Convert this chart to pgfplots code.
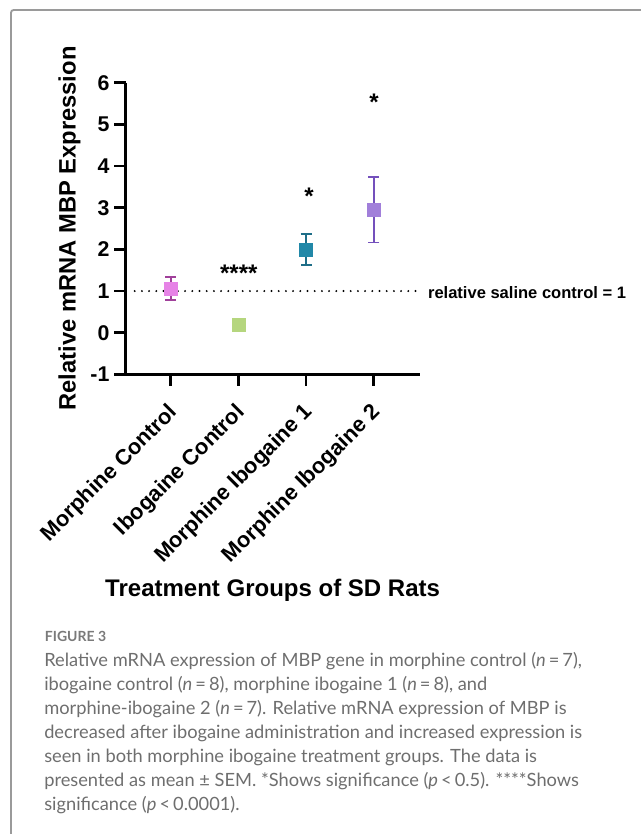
\documentclass[border=0pt]{standalone}
\usepackage{pgfplots}
\pgfplotsset{compat=1.18}
\usepackage{fontspec}
\setmainfont{Liberation Sans}
\newfontfamily\capfont{Lato}
\definecolor{mcfill}{HTML}{E683E6}
\definecolor{mcbar}{HTML}{A0409A}
\definecolor{icfill}{HTML}{B5D67E}
\definecolor{mifill}{HTML}{2188A8}
\definecolor{mibar}{HTML}{1E6E88}
\definecolor{m2fill}{HTML}{A17FDA}
\definecolor{m2bar}{HTML}{7450BC}
\definecolor{framegray}{HTML}{9A9A9A}
\definecolor{capgray}{HTML}{6E6E6E}
\definecolor{figgray}{HTML}{7A7A7A}
\begin{document}
\begin{tikzpicture}[x=0.75pt,y=-0.75pt]
\path[use as bounding box] (0,0) rectangle (640,834);
\draw[framegray, line width=1.4pt, rounded corners=2pt] (11,850) -- (11,10) -- (660,10);
\begin{axis}[
  at={(94.275pt,-280.8pt)}, anchor=south west,
  scale only axis, width=220.4pt, height=218.8pt,
  xmin=-0.666, xmax=3.676, ymin=-1, ymax=6,
  axis lines=left, axis line style={line width=2pt, -},
  tick style={line width=2pt, black},
  tick align=outside, major tick length=8.5pt,
  xtick={0,1,2,3},
  xticklabels={Morphine Control, Ibogaine Control, Morphine Ibogaine 1, Morphine Ibogaine 2},
  ytick={-1,0,1,2,3,4,5,6},
  yticklabels={-1,0,1,2,3,4,5,6},
  y tick label style={font=\bfseries\fontsize{16}{18}\selectfont, inner sep=0pt, xshift=-3.5pt},
  x tick label style={font=\bfseries\fontsize{16.4}{18}\selectfont, xshift=-3pt, yshift=-12pt, rotate=45, anchor=north east, inner sep=0pt},
  clip=false,
]
\addplot[black, line width=1.6pt, dash pattern=on 0pt off 5.4pt, line cap=round] coordinates {(-0.533,1) (3.62,1)};
\addplot[only marks, mark=square*, mark size=4.8pt, mark options={fill=mcfill, draw=mcfill},
  error bars/.cd, y dir=both, y explicit,
  error bar style={mcbar, line width=1.1pt},
  error mark options={rotate=90, mcbar, mark size=4.1pt, line width=1.1pt}]
  coordinates {(0,1.06) +- (0,0.28)};
\addplot[only marks, mark=square*, mark size=4.8pt, mark options={fill=icfill, draw=icfill}]
  coordinates {(1,0.2)};
\addplot[only marks, mark=square*, mark size=4.8pt, mark options={fill=mifill, draw=mifill},
  error bars/.cd, y dir=both, y explicit,
  error bar style={mibar, line width=1.1pt},
  error mark options={rotate=90, mibar, mark size=4.1pt, line width=1.1pt}]
  coordinates {(2,1.995) +- (0,0.375)};
\addplot[only marks, mark=square*, mark size=4.8pt, mark options={fill=m2fill, draw=m2fill},
  error bars/.cd, y dir=both, y explicit,
  error bar style={m2bar, line width=1.1pt},
  error mark options={rotate=90, m2bar, mark size=4.1pt, line width=1.1pt}]
  coordinates {(3,2.95) +- (0,0.79)};
\end{axis}
% annotations
\node[anchor=base, font=\bfseries\fontsize{18}{20}\selectfont, inner sep=0pt] at (238.8,281.4) {****};
\node[anchor=base, font=\bfseries\fontsize{18}{20}\selectfont, inner sep=0pt] at (309,204.4) {*};
\node[anchor=base, font=\bfseries\fontsize{18}{20}\selectfont, inner sep=0pt] at (374,110.4) {*};
\node[anchor=west, font=\bfseries\fontsize{12.4}{14}\selectfont, inner sep=0pt] at (427.8,292.5) {relative saline control = 1};
\node[rotate=90, font=\bfseries\fontsize{17.8}{20}\selectfont, inner sep=0pt] at (69.4,228.4) {Relative mRNA MBP Expression};
\node[font=\bfseries\fontsize{18}{20}\selectfont, inner sep=0pt] at (272.6,590) {Treatment Groups of SD Rats};
% caption
\node[anchor=base west, inner sep=0pt, text=figgray, font=\capfont\bfseries\fontsize{10.5}{12}\selectfont] at (44.7,641.7) {FIGURE 3};
\begin{scope}[every node/.style={anchor=base west, inner sep=0pt, text=capgray, font=\capfont\fontsize{13.7}{16}\selectfont}]
\node at (44,666.7) {Relative mRNA expression of MBP gene in morphine control (\textit{n}\,=\,7),};
\node at (44,690.7) {ibogaine control (\textit{n}\,=\,8), morphine ibogaine 1 (\textit{n}\,=\,8), and};
\node at (44,714.7) {morphine-ibogaine 2 (\textit{n}\,=\,7). Relative mRNA expression of MBP is};
\node at (44,738.7) {decreased after ibogaine administration and increased expression is};
\node at (44,762.7) {seen in both morphine ibogaine treatment groups. The data is};
\node at (44,786.7) {presented as mean \textpm{} SEM. *Shows significance (\textit{p}\,<\,0.5). ****Shows};
\node at (44,810.7) {significance (\textit{p}\,<\,0.0001).};
\end{scope}
\end{tikzpicture}
\end{document}
